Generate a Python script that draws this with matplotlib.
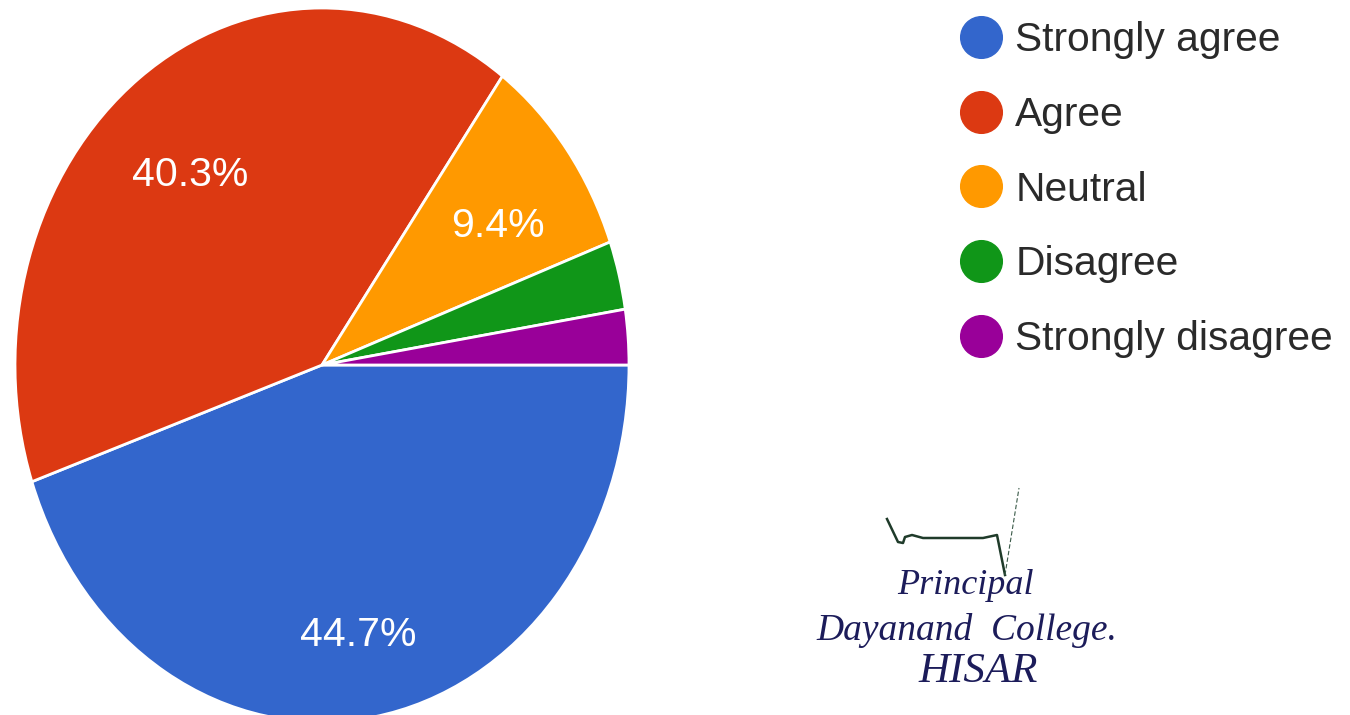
import numpy as np
import matplotlib.pyplot as plt
from matplotlib.lines import Line2D

# survey answers (percent)
labels = ['Strongly agree', 'Agree', 'Neutral', 'Disagree', 'Strongly disagree']
shares = [44.7, 40.3, 9.4, 3.1, 2.5]
colors = ['#3366cc', '#dc3912', '#ff9900', '#109618', '#990099']

W, H = 1350, 715
fig = plt.figure(figsize=(W / 100, H / 100), dpi=100)

# the pie in the picture is stretched vertically, so the axes is not square
ax = fig.add_axes([15 / W, (H - 722) / H, 614 / W, 714 / H])


def show_pct(p):
    # small slices get no label
    return '%.1f%%' % p if p >= 5 else ''


wedges, texts, autotexts = ax.pie(
    shares, colors=colors, startangle=0, counterclock=False,
    autopct=show_pct, pctdistance=0.72,
    wedgeprops=dict(edgecolor='white', linewidth=2),
    textprops=dict(color='white', fontsize=29.5, family='Liberation Sans'))
# labels sit a little lower in the original
for t in autotexts:
    x, y = t.get_position()
    t.set_position((x, y - 0.045))
ax.set_aspect('auto')
ax.set_xlim(-1, 1)
ax.set_ylim(-1, 1)
ax.axis('off')

# legend with round markers
handles = [Line2D([], [], marker='o', linestyle='none', markersize=30,
                  markerfacecolor=c, markeredgecolor=c) for c in colors]
fig.legend(handles, labels, loc='upper left', bbox_to_anchor=(944 / W, 1 - 5 / H),
           frameon=False, prop=dict(family='Liberation Sans', size=29.3),
           labelcolor='#2a2a2a', handletextpad=0.35, labelspacing=0.9,
           handlelength=1.0, borderaxespad=0)

# signature stamp
ink = '#1c1c5a'
sx = [887, 898, 903, 905, 912, 923, 983, 997, 1005]
sy = [519, 542, 543, 537, 535, 538, 538, 535, 575]
fig.add_artist(Line2D(np.array(sx) / W, 1 - np.array(sy) / H,
                      color='#1f3b2a', linewidth=1.8))
fig.add_artist(Line2D([1005 / W, 1019 / W], [1 - 575 / H, 1 - 488 / H],
                      color='#3a5a48', linewidth=0.8, linestyle=(0, (4, 2))))
fig.text(965 / W, 1 - 585 / H, 'Principal', ha='center', va='center',
         family='Liberation Serif', style='italic', size=26, color=ink)
fig.text(967 / W, 1 - 630 / H, 'Dayanand  College.', ha='center', va='center',
         family='Liberation Serif', style='italic', size=27, color=ink)
fig.text(978 / W, 1 - 672 / H, 'HISAR', ha='center', va='center',
         family='Liberation Serif', style='italic', size=31, color=ink)

fig.savefig('out.png', dpi=100)
